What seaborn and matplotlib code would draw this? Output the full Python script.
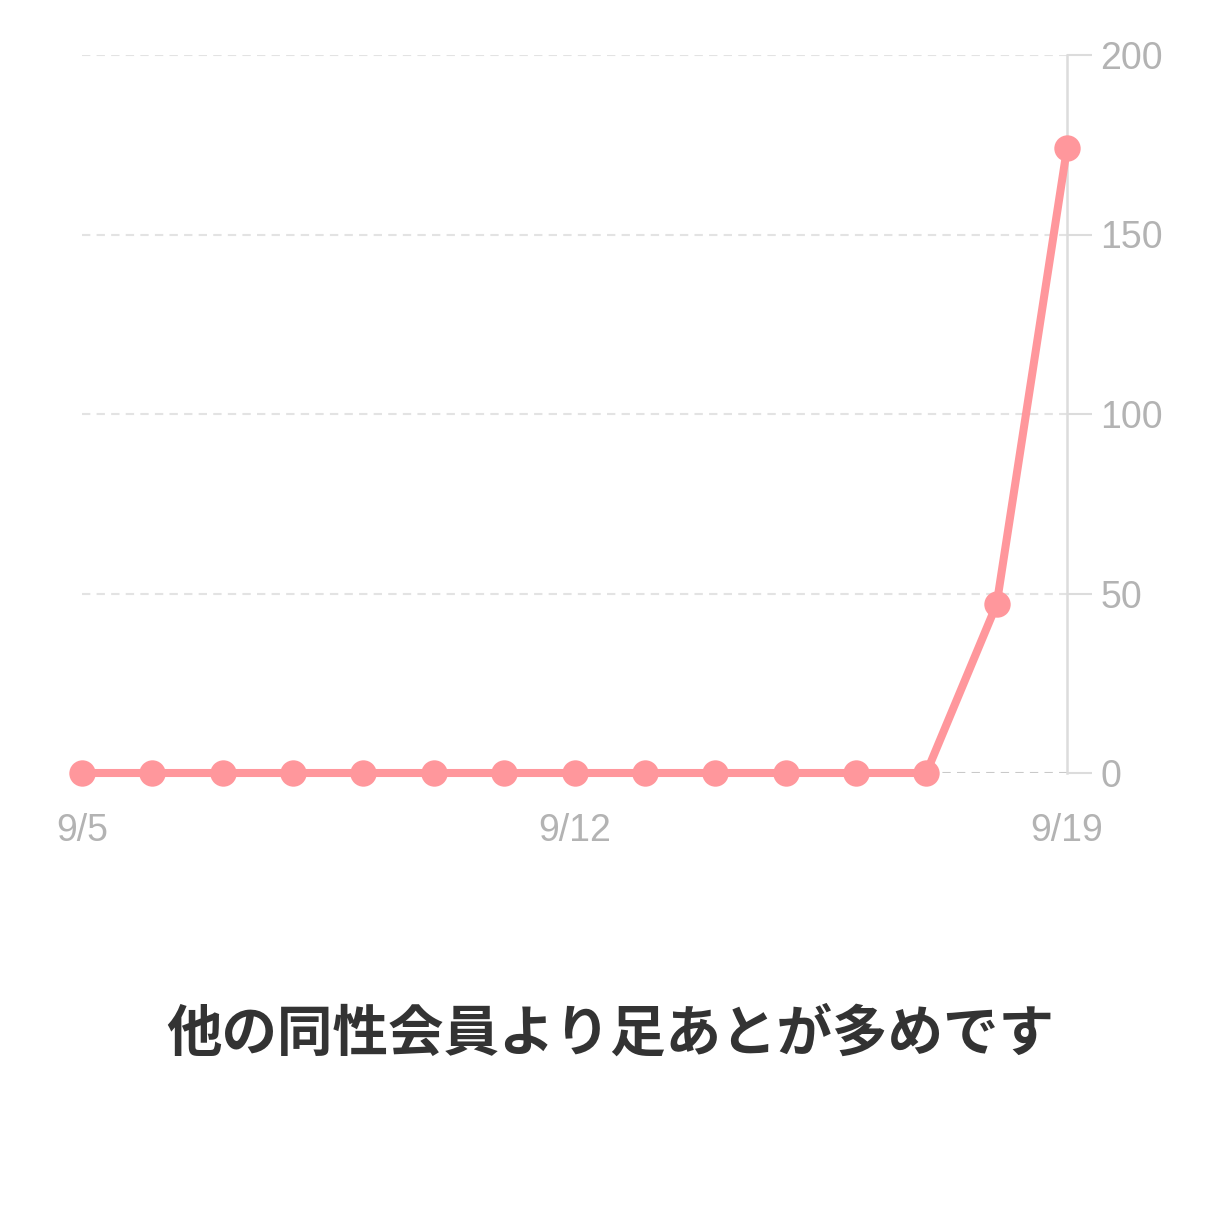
import matplotlib
matplotlib.use("Agg")
import matplotlib.pyplot as plt
import seaborn as sns
import pandas as pd

dates = ["9/5", "9/6", "9/7", "9/8", "9/9", "9/10", "9/11", "9/12",
         "9/13", "9/14", "9/15", "9/16", "9/17", "9/18", "9/19"]
counts = [0, 0, 0, 0, 0, 0, 0, 0, 0, 0, 0, 0, 0, 47, 174]
shown_xticks = ["9/5", "9/12", "9/19"]
yticks = [0, 50, 100, 150, 200]
title = "他の同性会員より足あとが多めです"

sns.set_theme(style="white")
plt.rcParams['font.family'] = ['Noto Sans CJK JP', 'DejaVu Sans']

df = pd.DataFrame({"idx": range(len(dates)), "date": dates, "count": counts})

fig = plt.figure(figsize=(12.2, 12.2), dpi=100)
W = H = 1220
ax = fig.add_axes([82 / W, 1 - 773 / H, (1067 - 82) / W, (773 - 55) / H])

grid_color = "#E3E3E3"
for yv in yticks[1:]:
    ax.axhline(yv, color=grid_color, lw=1.5, ls=(0, (4, 3)), zorder=1)
ax.axhline(0, color="#C9C9C9", lw=1.5, ls=(0, (4, 3)), zorder=1)

pink = "#FF979C"
sns.lineplot(data=df, x="idx", y="count", ax=ax, color=pink, lw=5.8,
             marker="o", markersize=19, markeredgewidth=0,
             markerfacecolor=pink, clip_on=False, zorder=5)

ax.set_xlim(0, len(dates) - 1)
ax.set_ylim(0, 200)
ax.set_xlabel("")
ax.set_ylabel("")

ax.set_xticks([dates.index(d) for d in shown_xticks])
ax.set_xticklabels(shown_xticks, family=["Liberation Sans", "DejaVu Sans"])
ax.yaxis.tick_right()
ax.set_yticks(yticks)
ax.set_yticklabels([str(v) for v in yticks], family=["Liberation Sans", "DejaVu Sans"])

ax.tick_params(axis="x", length=0, pad=29, labelsize=27, labelcolor="#B3B3B3")
ax.tick_params(axis="y", which="both", right=True, left=False, length=18,
               width=1.5, color="#DCDCDC", pad=6, labelsize=27,
               labelcolor="#B3B3B3")

for s in ["left", "top", "bottom"]:
    ax.spines[s].set_visible(False)
ax.spines["right"].set_color("#DCDCDC")
ax.spines["right"].set_linewidth(1.8)

fig.text(0.5, 1 - 1035 / H, title, ha="center", va="center",
         fontsize=40, fontweight="bold", color="#333333",
         family=['Noto Sans CJK JP', 'DejaVu Sans'])

fig.savefig("out.png", dpi=100, facecolor="white")
